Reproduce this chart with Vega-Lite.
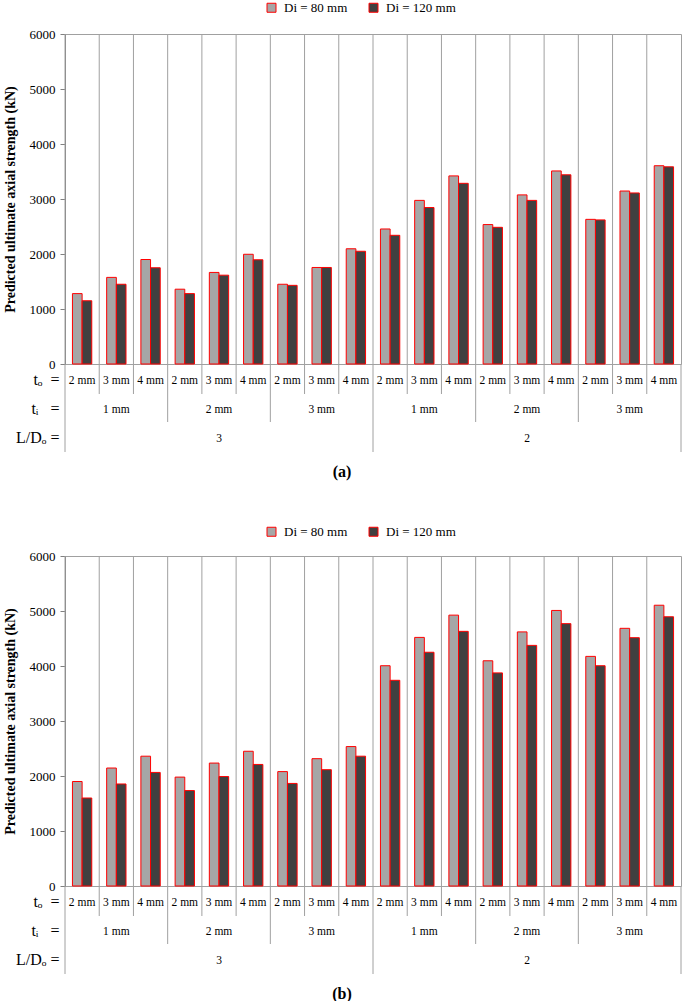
{
"$schema": "https://vega.github.io/schema/vega-lite/v6.json",
"padding": {"left": 2, "top": 0, "right": 1, "bottom": 0},
"config": {
  "font": "Liberation Serif",
  "view": {"stroke": null},
  "axis": {"labelFont": "Liberation Serif", "titleFont": "Liberation Serif", "labelColor": "#000", "titleColor": "#000"},
  "legend": {"labelFont": "Liberation Serif"},
  "text": {"font": "Liberation Serif"}
},
"datasets": {"bars": [
{"p":"a","g":1,"ld":"3","ti":"1 mm","to":"2 mm","d":"Di = 80 mm","v":1280},{"p":"a","g":1,"ld":"3","ti":"1 mm","to":"2 mm","d":"Di = 120 mm","v":1150},
{"p":"a","g":2,"ld":"3","ti":"1 mm","to":"3 mm","d":"Di = 80 mm","v":1575},{"p":"a","g":2,"ld":"3","ti":"1 mm","to":"3 mm","d":"Di = 120 mm","v":1450},
{"p":"a","g":3,"ld":"3","ti":"1 mm","to":"4 mm","d":"Di = 80 mm","v":1900},{"p":"a","g":3,"ld":"3","ti":"1 mm","to":"4 mm","d":"Di = 120 mm","v":1750},
{"p":"a","g":4,"ld":"3","ti":"2 mm","to":"2 mm","d":"Di = 80 mm","v":1360},{"p":"a","g":4,"ld":"3","ti":"2 mm","to":"2 mm","d":"Di = 120 mm","v":1280},
{"p":"a","g":5,"ld":"3","ti":"2 mm","to":"3 mm","d":"Di = 80 mm","v":1665},{"p":"a","g":5,"ld":"3","ti":"2 mm","to":"3 mm","d":"Di = 120 mm","v":1615},
{"p":"a","g":6,"ld":"3","ti":"2 mm","to":"4 mm","d":"Di = 80 mm","v":1995},{"p":"a","g":6,"ld":"3","ti":"2 mm","to":"4 mm","d":"Di = 120 mm","v":1895},
{"p":"a","g":7,"ld":"3","ti":"3 mm","to":"2 mm","d":"Di = 80 mm","v":1450},{"p":"a","g":7,"ld":"3","ti":"3 mm","to":"2 mm","d":"Di = 120 mm","v":1430},
{"p":"a","g":8,"ld":"3","ti":"3 mm","to":"3 mm","d":"Di = 80 mm","v":1755},{"p":"a","g":8,"ld":"3","ti":"3 mm","to":"3 mm","d":"Di = 120 mm","v":1755},
{"p":"a","g":9,"ld":"3","ti":"3 mm","to":"4 mm","d":"Di = 80 mm","v":2095},{"p":"a","g":9,"ld":"3","ti":"3 mm","to":"4 mm","d":"Di = 120 mm","v":2050},
{"p":"a","g":10,"ld":"2","ti":"1 mm","to":"2 mm","d":"Di = 80 mm","v":2455},{"p":"a","g":10,"ld":"2","ti":"1 mm","to":"2 mm","d":"Di = 120 mm","v":2340},
{"p":"a","g":11,"ld":"2","ti":"1 mm","to":"3 mm","d":"Di = 80 mm","v":2975},{"p":"a","g":11,"ld":"2","ti":"1 mm","to":"3 mm","d":"Di = 120 mm","v":2845},
{"p":"a","g":12,"ld":"2","ti":"1 mm","to":"4 mm","d":"Di = 80 mm","v":3420},{"p":"a","g":12,"ld":"2","ti":"1 mm","to":"4 mm","d":"Di = 120 mm","v":3285},
{"p":"a","g":13,"ld":"2","ti":"2 mm","to":"2 mm","d":"Di = 80 mm","v":2535},{"p":"a","g":13,"ld":"2","ti":"2 mm","to":"2 mm","d":"Di = 120 mm","v":2485},
{"p":"a","g":14,"ld":"2","ti":"2 mm","to":"3 mm","d":"Di = 80 mm","v":3075},{"p":"a","g":14,"ld":"2","ti":"2 mm","to":"3 mm","d":"Di = 120 mm","v":2975},
{"p":"a","g":15,"ld":"2","ti":"2 mm","to":"4 mm","d":"Di = 80 mm","v":3510},{"p":"a","g":15,"ld":"2","ti":"2 mm","to":"4 mm","d":"Di = 120 mm","v":3440},
{"p":"a","g":16,"ld":"2","ti":"3 mm","to":"2 mm","d":"Di = 80 mm","v":2630},{"p":"a","g":16,"ld":"2","ti":"3 mm","to":"2 mm","d":"Di = 120 mm","v":2620},
{"p":"a","g":17,"ld":"2","ti":"3 mm","to":"3 mm","d":"Di = 80 mm","v":3145},{"p":"a","g":17,"ld":"2","ti":"3 mm","to":"3 mm","d":"Di = 120 mm","v":3110},
{"p":"a","g":18,"ld":"2","ti":"3 mm","to":"4 mm","d":"Di = 80 mm","v":3605},{"p":"a","g":18,"ld":"2","ti":"3 mm","to":"4 mm","d":"Di = 120 mm","v":3585},
{"p":"b","g":1,"ld":"3","ti":"1 mm","to":"2 mm","d":"Di = 80 mm","v":1900},{"p":"b","g":1,"ld":"3","ti":"1 mm","to":"2 mm","d":"Di = 120 mm","v":1600},
{"p":"b","g":2,"ld":"3","ti":"1 mm","to":"3 mm","d":"Di = 80 mm","v":2145},{"p":"b","g":2,"ld":"3","ti":"1 mm","to":"3 mm","d":"Di = 120 mm","v":1855},
{"p":"b","g":3,"ld":"3","ti":"1 mm","to":"4 mm","d":"Di = 80 mm","v":2360},{"p":"b","g":3,"ld":"3","ti":"1 mm","to":"4 mm","d":"Di = 120 mm","v":2065},
{"p":"b","g":4,"ld":"3","ti":"2 mm","to":"2 mm","d":"Di = 80 mm","v":1980},{"p":"b","g":4,"ld":"3","ti":"2 mm","to":"2 mm","d":"Di = 120 mm","v":1735},
{"p":"b","g":5,"ld":"3","ti":"2 mm","to":"3 mm","d":"Di = 80 mm","v":2235},{"p":"b","g":5,"ld":"3","ti":"2 mm","to":"3 mm","d":"Di = 120 mm","v":1990},
{"p":"b","g":6,"ld":"3","ti":"2 mm","to":"4 mm","d":"Di = 80 mm","v":2450},{"p":"b","g":6,"ld":"3","ti":"2 mm","to":"4 mm","d":"Di = 120 mm","v":2210},
{"p":"b","g":7,"ld":"3","ti":"3 mm","to":"2 mm","d":"Di = 80 mm","v":2080},{"p":"b","g":7,"ld":"3","ti":"3 mm","to":"2 mm","d":"Di = 120 mm","v":1865},
{"p":"b","g":8,"ld":"3","ti":"3 mm","to":"3 mm","d":"Di = 80 mm","v":2315},{"p":"b","g":8,"ld":"3","ti":"3 mm","to":"3 mm","d":"Di = 120 mm","v":2115},
{"p":"b","g":9,"ld":"3","ti":"3 mm","to":"4 mm","d":"Di = 80 mm","v":2535},{"p":"b","g":9,"ld":"3","ti":"3 mm","to":"4 mm","d":"Di = 120 mm","v":2360},
{"p":"b","g":10,"ld":"2","ti":"1 mm","to":"2 mm","d":"Di = 80 mm","v":4005},{"p":"b","g":10,"ld":"2","ti":"1 mm","to":"2 mm","d":"Di = 120 mm","v":3740},
{"p":"b","g":11,"ld":"2","ti":"1 mm","to":"3 mm","d":"Di = 80 mm","v":4520},{"p":"b","g":11,"ld":"2","ti":"1 mm","to":"3 mm","d":"Di = 120 mm","v":4250},
{"p":"b","g":12,"ld":"2","ti":"1 mm","to":"4 mm","d":"Di = 80 mm","v":4925},{"p":"b","g":12,"ld":"2","ti":"1 mm","to":"4 mm","d":"Di = 120 mm","v":4630},
{"p":"b","g":13,"ld":"2","ti":"2 mm","to":"2 mm","d":"Di = 80 mm","v":4095},{"p":"b","g":13,"ld":"2","ti":"2 mm","to":"2 mm","d":"Di = 120 mm","v":3875},
{"p":"b","g":14,"ld":"2","ti":"2 mm","to":"3 mm","d":"Di = 80 mm","v":4620},{"p":"b","g":14,"ld":"2","ti":"2 mm","to":"3 mm","d":"Di = 120 mm","v":4375},
{"p":"b","g":15,"ld":"2","ti":"2 mm","to":"4 mm","d":"Di = 80 mm","v":5010},{"p":"b","g":15,"ld":"2","ti":"2 mm","to":"4 mm","d":"Di = 120 mm","v":4770},
{"p":"b","g":16,"ld":"2","ti":"3 mm","to":"2 mm","d":"Di = 80 mm","v":4175},{"p":"b","g":16,"ld":"2","ti":"3 mm","to":"2 mm","d":"Di = 120 mm","v":4005},
{"p":"b","g":17,"ld":"2","ti":"3 mm","to":"3 mm","d":"Di = 80 mm","v":4685},{"p":"b","g":17,"ld":"2","ti":"3 mm","to":"3 mm","d":"Di = 120 mm","v":4515},
{"p":"b","g":18,"ld":"2","ti":"3 mm","to":"4 mm","d":"Di = 80 mm","v":5105},{"p":"b","g":18,"ld":"2","ti":"3 mm","to":"4 mm","d":"Di = 120 mm","v":4895}
]},
"spacing": 44,
"resolve": {"scale": {"color": "independent"}, "legend": {"color": "independent"}},
"vconcat": [
{
  "title": {"text": "(a)", "orient": "bottom", "anchor": "middle", "offset": 11, "fontSize": 16, "fontWeight": "bold", "font": "Liberation Serif", "color": "#000"},
  "spacing": 0,
  "bounds": "flush",
  "resolve": {"scale": {"color": "independent"}, "legend": {"color": "independent"}},
  "vconcat": [
    {
      "width": 616, "height": 330,
      "view": {"stroke": "#a0a0a0"},
      "data": {"name": "bars"},
      "transform": [{"filter": "datum.p == 'a'"}],
      "encoding": {
        "x": {"field": "g", "type": "ordinal", "scale": {"domain": [1,2,3,4,5,6,7,8,9,10,11,12,13,14,15,16,17,18], "paddingInner": 0, "paddingOuter": 0}, "axis": null}
      },
      "layer": [
        {"transform": [{"filter": "datum.d == 'Di = 80 mm'"}],
         "mark": {"type": "rule", "color": "#a0a0a0", "strokeWidth": 1},
         "encoding": {"x": {"field": "g", "type": "ordinal", "bandPosition": 0}}},
        {"mark": {"type": "rule", "color": "#808080", "strokeWidth": 1},
         "encoding": {"y": {"datum": 0, "type": "quantitative"}}},
        {"mark": {"type": "bar", "stroke": "#ff0000", "strokeWidth": 1},
         "encoding": {
          "xOffset": {"field": "d", "type": "nominal", "sort": ["Di = 80 mm", "Di = 120 mm"], "scale": {"paddingInner": 0, "paddingOuter": 0.77}},
          "y": {"field": "v", "type": "quantitative", "scale": {"domain": [0, 6000], "nice": false}, "axis": {"title": "Predicted ultimate axial strength (kN)", "values": [0,1000,2000,3000,4000,5000,6000], "format": "d", "labelFont": "Liberation Serif", "labelFontSize": 13, "labelPadding": 5, "tickSize": 5, "tickColor": "#808080", "domainColor": "#808080", "gridColor": "#a0a0a0", "titleFont": "Liberation Serif", "titleFontSize": 14, "titleFontWeight": "bold", "titlePadding": 12}},
          "color": {"field": "d", "type": "nominal", "sort": ["Di = 80 mm", "Di = 120 mm"], "scale": {"domain": ["Di = 80 mm", "Di = 120 mm"], "range": ["#a6a6a6", "#404040"]}, "legend": {"title": null, "orient": "none", "direction": "horizontal", "columns": 2, "legendX": 200, "legendY": -33, "symbolType": "square", "symbolSize": 81, "symbolStrokeColor": "#ff0000", "symbolStrokeWidth": 1, "symbolOpacity": 1, "labelFont": "Liberation Serif", "labelFontSize": 13, "labelColor": "#000", "columnPadding": 19, "labelOffset": 6, "padding": 0}}
         }}
      ]
    },
    {
      "width": 616, "height": 30,
      "data": {"name": "bars"},
      "transform": [{"filter": "datum.p == 'a' && datum.d == 'Di = 80 mm'"}],
      "layer": [
        {"mark": {"type": "text", "fontSize": 11.5, "dy": 2, "color": "#000", "font": "Liberation Serif"},
         "encoding": {
           "x": {"field": "g", "type": "ordinal", "scale": {"domain": [1,2,3,4,5,6,7,8,9,10,11,12,13,14,15,16,17,18], "paddingInner": 0, "paddingOuter": 0}, "axis": null},
           "y": {"datum": "t\u2092\u00a0\u00a0=", "type": "nominal", "axis": {"title": null, "ticks": false, "domain": false, "grid": false, "labelFont": "Liberation Serif", "labelFontSize": 16, "labelPadding": 6, "labelColor": "#000"}},
           "text": {"field": "to"}}},
        {"mark": {"type": "rule", "color": "#a0a0a0", "strokeWidth": 1},
         "encoding": {"x": {"field": "g", "type": "ordinal", "bandPosition": 0}}},
        {"transform": [{"filter": "datum.g == 18"}],
         "mark": {"type": "rule", "color": "#a0a0a0", "strokeWidth": 1},
         "encoding": {"x": {"field": "g", "type": "ordinal", "bandPosition": 1}}}
      ]
    },
    {
      "width": 616, "height": 28,
      "data": {"name": "bars"},
      "transform": [{"filter": "datum.p == 'a' && datum.d == 'Di = 80 mm'"}],
      "layer": [
        {"transform": [{"filter": "datum.to == '3 mm'"}],
         "mark": {"type": "text", "fontSize": 11.5, "dy": 2, "color": "#000", "font": "Liberation Serif"},
         "encoding": {
           "x": {"field": "g", "type": "ordinal", "scale": {"domain": [1,2,3,4,5,6,7,8,9,10,11,12,13,14,15,16,17,18], "paddingInner": 0, "paddingOuter": 0}, "axis": null},
           "y": {"datum": "t\u1d62\u00a0\u00a0\u00a0=", "type": "nominal", "axis": {"title": null, "ticks": false, "domain": false, "grid": false, "labelFont": "Liberation Serif", "labelFontSize": 16, "labelPadding": 6, "labelColor": "#000"}},
           "text": {"field": "ti"}}},
        {"transform": [{"filter": "datum.to == '2 mm'"}],
         "mark": {"type": "rule", "color": "#a0a0a0", "strokeWidth": 1},
         "encoding": {"x": {"field": "g", "type": "ordinal", "bandPosition": 0}}},
        {"transform": [{"filter": "datum.g == 18"}],
         "mark": {"type": "rule", "color": "#a0a0a0", "strokeWidth": 1},
         "encoding": {"x": {"field": "g", "type": "ordinal", "bandPosition": 1}}}
      ]
    },
    {
      "width": 616, "height": 30,
      "data": {"name": "bars"},
      "transform": [{"filter": "datum.p == 'a' && datum.d == 'Di = 80 mm'"}],
      "layer": [
        {"transform": [{"filter": "datum.to == '3 mm' && datum.ti == '2 mm'"}],
         "mark": {"type": "text", "fontSize": 11.5, "dy": 2, "color": "#000", "font": "Liberation Serif"},
         "encoding": {
           "x": {"field": "g", "type": "ordinal", "scale": {"domain": [1,2,3,4,5,6,7,8,9,10,11,12,13,14,15,16,17,18], "paddingInner": 0, "paddingOuter": 0}, "axis": null},
           "y": {"datum": "L/D\u2092\u00a0=", "type": "nominal", "axis": {"title": null, "ticks": false, "domain": false, "grid": false, "labelFont": "Liberation Serif", "labelFontSize": 16, "labelPadding": 6, "labelColor": "#000"}},
           "text": {"field": "ld"}}},
        {"transform": [{"filter": "datum.to == '2 mm' && datum.ti == '1 mm'"}],
         "mark": {"type": "rule", "color": "#a0a0a0", "strokeWidth": 1},
         "encoding": {"x": {"field": "g", "type": "ordinal", "bandPosition": 0}}},
        {"transform": [{"filter": "datum.g == 18"}],
         "mark": {"type": "rule", "color": "#a0a0a0", "strokeWidth": 1},
         "encoding": {"x": {"field": "g", "type": "ordinal", "bandPosition": 1}}}
      ]
    }
  ]
},
{
  "title": {"text": "(b)", "orient": "bottom", "anchor": "middle", "offset": 11, "fontSize": 16, "fontWeight": "bold", "font": "Liberation Serif", "color": "#000"},
  "spacing": 0,
  "bounds": "flush",
  "resolve": {"scale": {"color": "independent"}, "legend": {"color": "independent"}},
  "vconcat": [
    {
      "width": 616, "height": 330,
      "view": {"stroke": "#a0a0a0"},
      "data": {"name": "bars"},
      "transform": [{"filter": "datum.p == 'b'"}],
      "encoding": {
        "x": {"field": "g", "type": "ordinal", "scale": {"domain": [1,2,3,4,5,6,7,8,9,10,11,12,13,14,15,16,17,18], "paddingInner": 0, "paddingOuter": 0}, "axis": null}
      },
      "layer": [
        {"transform": [{"filter": "datum.d == 'Di = 80 mm'"}],
         "mark": {"type": "rule", "color": "#a0a0a0", "strokeWidth": 1},
         "encoding": {"x": {"field": "g", "type": "ordinal", "bandPosition": 0}}},
        {"mark": {"type": "rule", "color": "#808080", "strokeWidth": 1},
         "encoding": {"y": {"datum": 0, "type": "quantitative"}}},
        {"mark": {"type": "bar", "stroke": "#ff0000", "strokeWidth": 1},
         "encoding": {
          "xOffset": {"field": "d", "type": "nominal", "sort": ["Di = 80 mm", "Di = 120 mm"], "scale": {"paddingInner": 0, "paddingOuter": 0.77}},
          "y": {"field": "v", "type": "quantitative", "scale": {"domain": [0, 6000], "nice": false}, "axis": {"title": "Predicted ultimate axial strength (kN)", "values": [0,1000,2000,3000,4000,5000,6000], "format": "d", "labelFont": "Liberation Serif", "labelFontSize": 13, "labelPadding": 5, "tickSize": 5, "tickColor": "#808080", "domainColor": "#808080", "gridColor": "#a0a0a0", "titleFont": "Liberation Serif", "titleFontSize": 14, "titleFontWeight": "bold", "titlePadding": 12}},
          "color": {"field": "d", "type": "nominal", "sort": ["Di = 80 mm", "Di = 120 mm"], "scale": {"domain": ["Di = 80 mm", "Di = 120 mm"], "range": ["#a6a6a6", "#404040"]}, "legend": {"title": null, "orient": "none", "direction": "horizontal", "columns": 2, "legendX": 200, "legendY": -31, "symbolType": "square", "symbolSize": 81, "symbolStrokeColor": "#ff0000", "symbolStrokeWidth": 1, "symbolOpacity": 1, "labelFont": "Liberation Serif", "labelFontSize": 13, "labelColor": "#000", "columnPadding": 19, "labelOffset": 6, "padding": 0}}
         }}
      ]
    },
    {
      "width": 616, "height": 30,
      "data": {"name": "bars"},
      "transform": [{"filter": "datum.p == 'b' && datum.d == 'Di = 80 mm'"}],
      "layer": [
        {"mark": {"type": "text", "fontSize": 11.5, "dy": 2, "color": "#000", "font": "Liberation Serif"},
         "encoding": {
           "x": {"field": "g", "type": "ordinal", "scale": {"domain": [1,2,3,4,5,6,7,8,9,10,11,12,13,14,15,16,17,18], "paddingInner": 0, "paddingOuter": 0}, "axis": null},
           "y": {"datum": "t\u2092\u00a0\u00a0=", "type": "nominal", "axis": {"title": null, "ticks": false, "domain": false, "grid": false, "labelFont": "Liberation Serif", "labelFontSize": 16, "labelPadding": 6, "labelColor": "#000"}},
           "text": {"field": "to"}}},
        {"mark": {"type": "rule", "color": "#a0a0a0", "strokeWidth": 1},
         "encoding": {"x": {"field": "g", "type": "ordinal", "bandPosition": 0}}},
        {"transform": [{"filter": "datum.g == 18"}],
         "mark": {"type": "rule", "color": "#a0a0a0", "strokeWidth": 1},
         "encoding": {"x": {"field": "g", "type": "ordinal", "bandPosition": 1}}}
      ]
    },
    {
      "width": 616, "height": 28,
      "data": {"name": "bars"},
      "transform": [{"filter": "datum.p == 'b' && datum.d == 'Di = 80 mm'"}],
      "layer": [
        {"transform": [{"filter": "datum.to == '3 mm'"}],
         "mark": {"type": "text", "fontSize": 11.5, "dy": 2, "color": "#000", "font": "Liberation Serif"},
         "encoding": {
           "x": {"field": "g", "type": "ordinal", "scale": {"domain": [1,2,3,4,5,6,7,8,9,10,11,12,13,14,15,16,17,18], "paddingInner": 0, "paddingOuter": 0}, "axis": null},
           "y": {"datum": "t\u1d62\u00a0\u00a0\u00a0=", "type": "nominal", "axis": {"title": null, "ticks": false, "domain": false, "grid": false, "labelFont": "Liberation Serif", "labelFontSize": 16, "labelPadding": 6, "labelColor": "#000"}},
           "text": {"field": "ti"}}},
        {"transform": [{"filter": "datum.to == '2 mm'"}],
         "mark": {"type": "rule", "color": "#a0a0a0", "strokeWidth": 1},
         "encoding": {"x": {"field": "g", "type": "ordinal", "bandPosition": 0}}},
        {"transform": [{"filter": "datum.g == 18"}],
         "mark": {"type": "rule", "color": "#a0a0a0", "strokeWidth": 1},
         "encoding": {"x": {"field": "g", "type": "ordinal", "bandPosition": 1}}}
      ]
    },
    {
      "width": 616, "height": 30,
      "data": {"name": "bars"},
      "transform": [{"filter": "datum.p == 'b' && datum.d == 'Di = 80 mm'"}],
      "layer": [
        {"transform": [{"filter": "datum.to == '3 mm' && datum.ti == '2 mm'"}],
         "mark": {"type": "text", "fontSize": 11.5, "dy": 2, "color": "#000", "font": "Liberation Serif"},
         "encoding": {
           "x": {"field": "g", "type": "ordinal", "scale": {"domain": [1,2,3,4,5,6,7,8,9,10,11,12,13,14,15,16,17,18], "paddingInner": 0, "paddingOuter": 0}, "axis": null},
           "y": {"datum": "L/D\u2092\u00a0=", "type": "nominal", "axis": {"title": null, "ticks": false, "domain": false, "grid": false, "labelFont": "Liberation Serif", "labelFontSize": 16, "labelPadding": 6, "labelColor": "#000"}},
           "text": {"field": "ld"}}},
        {"transform": [{"filter": "datum.to == '2 mm' && datum.ti == '1 mm'"}],
         "mark": {"type": "rule", "color": "#a0a0a0", "strokeWidth": 1},
         "encoding": {"x": {"field": "g", "type": "ordinal", "bandPosition": 0}}},
        {"transform": [{"filter": "datum.g == 18"}],
         "mark": {"type": "rule", "color": "#a0a0a0", "strokeWidth": 1},
         "encoding": {"x": {"field": "g", "type": "ordinal", "bandPosition": 1}}}
      ]
    }
  ]
}
]
}
